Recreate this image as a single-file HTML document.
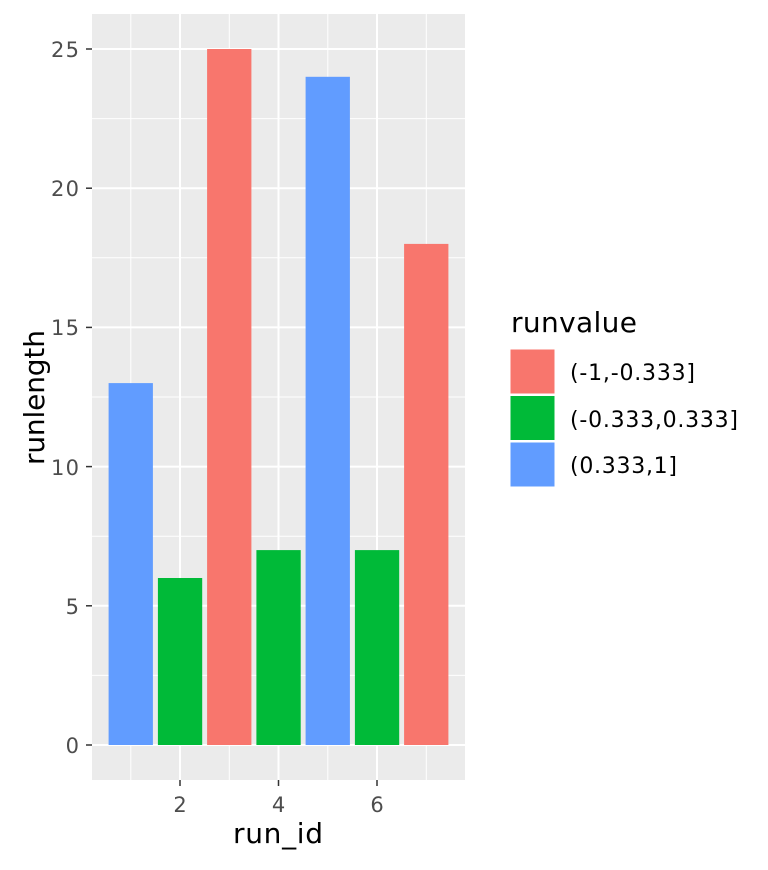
<!DOCTYPE html>
<html><head><style>body{margin:0;background:#fff}</style></head><body>
<svg width="768" height="865" xmlns="http://www.w3.org/2000/svg" font-family="DejaVu Sans, Liberation Sans, sans-serif">
<rect x="92" y="14" width="373" height="766" fill="#ebebeb"/>
<g stroke="#fff" stroke-width="1">
<line x1="92" x2="465" y1="675.4" y2="675.4"/><line x1="92" x2="465" y1="536.2" y2="536.2"/><line x1="92" x2="465" y1="397" y2="397"/><line x1="92" x2="465" y1="257.8" y2="257.8"/><line x1="92" x2="465" y1="118.6" y2="118.6"/>
<line y1="14" y2="780" x1="130.8" x2="130.8"/><line y1="14" y2="780" x1="229.3" x2="229.3"/><line y1="14" y2="780" x1="327.8" x2="327.8"/><line y1="14" y2="780" x1="426.3" x2="426.3"/>
</g>
<g stroke="#fff" stroke-width="2">
<line x1="92" x2="465" y1="745" y2="745"/><line x1="92" x2="465" y1="605.8" y2="605.8"/><line x1="92" x2="465" y1="466.6" y2="466.6"/><line x1="92" x2="465" y1="327.4" y2="327.4"/><line x1="92" x2="465" y1="188.2" y2="188.2"/><line x1="92" x2="465" y1="49" y2="49"/>
<line y1="14" y2="780" x1="180" x2="180"/><line y1="14" y2="780" x1="278.5" x2="278.5"/><line y1="14" y2="780" x1="377" x2="377"/>
</g>
<rect x="108.6" y="383.1" width="44.3" height="361.9" fill="#619cff"/>
<rect x="157.9" y="578" width="44.3" height="167" fill="#00ba38"/>
<rect x="207.1" y="49" width="44.3" height="696" fill="#f8766d"/>
<rect x="256.4" y="550.1" width="44.3" height="194.9" fill="#00ba38"/>
<rect x="305.6" y="76.8" width="44.3" height="668.2" fill="#619cff"/>
<rect x="354.9" y="550.1" width="44.3" height="194.9" fill="#00ba38"/>
<rect x="404.1" y="243.9" width="44.3" height="501.1" fill="#f8766d"/>
<g stroke="#333" stroke-width="1.5">
<line x1="86" x2="92" y1="745" y2="745"/><line x1="86" x2="92" y1="605.8" y2="605.8"/><line x1="86" x2="92" y1="466.6" y2="466.6"/><line x1="86" x2="92" y1="327.4" y2="327.4"/><line x1="86" x2="92" y1="188.2" y2="188.2"/><line x1="86" x2="92" y1="49" y2="49"/>
<line x1="180" x2="180" y1="780" y2="786"/><line x1="278.5" x2="278.5" y1="780" y2="786"/><line x1="377" x2="377" y1="780" y2="786"/>
</g>
<g fill="#4d4d4d" font-size="21" text-anchor="end">
<text x="79" y="753">0</text><text x="79" y="614">5</text><text x="79" y="475" textLength="28">10</text><text x="79" y="335" textLength="28">15</text><text x="79" y="196" textLength="28">20</text><text x="79" y="57" textLength="28">25</text>
</g>
<g fill="#4d4d4d" font-size="21" text-anchor="middle">
<text x="180" y="812">2</text><text x="278.5" y="812">4</text><text x="377" y="812">6</text>
</g>
<text x="233" y="843" font-size="28" textLength="90">run_id</text>
<text transform="translate(44,465) rotate(-90)" font-size="28" textLength="135">runlength</text>
<text x="511" y="332" font-size="28" textLength="126">runvalue</text>
<rect x="510" y="349" width="45" height="45" fill="#f8766d" stroke="#fff" stroke-width="1"/>
<rect x="510" y="395.5" width="45" height="45" fill="#00ba38" stroke="#fff" stroke-width="1"/>
<rect x="510" y="442" width="45" height="45" fill="#619cff" stroke="#fff" stroke-width="1"/>
<g font-size="22">
<text x="570" y="380" textLength="125">(-1,-0.333]</text><text x="570" y="427" textLength="168">(-0.333,0.333]</text><text x="570" y="473" textLength="107">(0.333,1]</text>
</g>
</svg>
</body></html>
